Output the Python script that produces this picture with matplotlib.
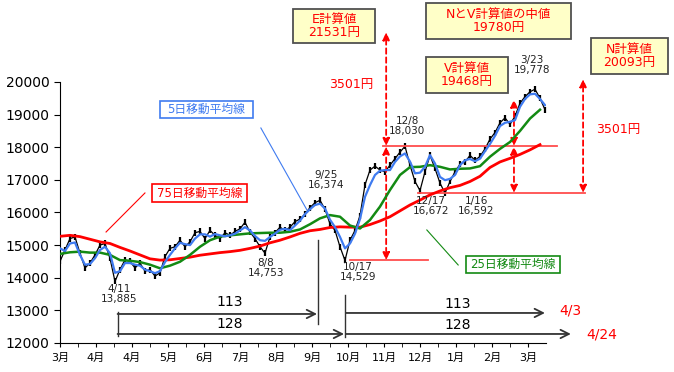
import numpy as np
import matplotlib.pyplot as plt
from matplotlib.patches import Rectangle

plt.rcParams['font.family'] = ['DejaVu Sans', 'Noto Sans CJK JP']

# x axis: one unit = one month label, samples every 5/36 (price, 5MA) and 10/36 (25MA, 75MA)
month_labels = ['3月', '4月', '4月', '5月', '6月', '7月', '8月', '9月',
                '10月', '11月', '12月', '1月', '2月', '3月']

close = [14500, 14850, 15200, 15250, 14750, 14300, 14450, 14700, 15000, 15050,
         14600, 13885, 14250, 14550, 14500, 14300, 14450, 14200, 14250, 14050,
         14150, 14650, 14900, 14950, 15150, 14950, 15100, 15380, 15420, 15200,
         15450, 15300, 15200, 15380, 15300, 15420, 15500, 15700, 15400, 15200,
         14950, 14753, 15250, 15380, 15550, 15450, 15550, 15720, 15800, 15950,
         16150, 16300, 16374, 16100, 15650, 15450, 14950, 14529, 15150, 15450,
         15900, 16850, 17300, 17420, 17300, 17250, 17450, 17650, 17850, 18030,
         17450, 16950, 16672, 17250, 17750, 17350, 16900, 16592, 16950, 17250,
         17480, 17550, 17750, 17600, 17720, 17950, 18250, 18450, 18750, 18900,
         18700, 18950, 19350, 19550, 19700, 19778, 19500, 19150]

ma5 = [14900, 14820, 15050, 15080, 14700, 14400, 14420, 14600, 14850, 14950,
       14750, 14150, 14200, 14450, 14450, 14400, 14370, 14250, 14200, 14140,
       14200, 14480, 14700, 14900, 15070, 15030, 15000, 15200, 15330, 15330,
       15260, 15340, 15300, 15270, 15300, 15350, 15450, 15550, 15450, 15280,
       15150, 15130, 15250, 15350, 15470, 15500, 15460, 15600, 15750, 15950,
       16100, 16230, 16270, 16120, 15780, 15550, 15250, 14900, 15050, 15350,
       15800, 16480, 16840, 17150, 17280, 17300, 17300, 17550, 17720, 17810,
       17560, 17200, 17220, 17400, 17760, 17500, 17090, 16990, 17030, 17150,
       17450, 17600, 17640, 17570, 17650, 17880, 18100, 18350, 18650, 18750,
       18780, 18830, 19240, 19480, 19620, 19640, 19480, 19290]

ma25 = [14730, 14780, 14800, 14770, 14770, 14700, 14540, 14520, 14480, 14400,
        14290, 14370, 14490, 14700, 14950, 15150, 15260, 15300, 15330, 15360,
        15370, 15380, 15380, 15410, 15480, 15640, 15820, 15920, 15870, 15600,
        15510, 15770, 16180, 16690, 17150, 17390, 17400, 17450, 17400, 17320,
        17340, 17350, 17420, 17710, 17950, 18160, 18500, 18880, 19150]

ma75 = [15270, 15300, 15260, 15180, 15100, 15050, 14930, 14820, 14700, 14580,
        14540, 14550, 14590, 14630, 14690, 14730, 14770, 14800, 14840, 14900,
        14970, 15070, 15150, 15250, 15360, 15440, 15480, 15540, 15560, 15550,
        15550, 15630, 15740, 15870, 16050, 16230, 16380, 16540, 16660, 16760,
        16830, 16950, 17110, 17380, 17550, 17660, 17780, 17920, 18080]

# key prices
low_1017 = 14529
high_128 = 18030
low_116 = 16592
range_e = 3501
calc_e = 21531
calc_v = 19468
calc_n = 20093
calc_nv = 19780

x_d = np.arange(len(close)) * 5 / 36
x_m = np.arange(len(ma25)) * 10 / 36

fig = plt.figure(figsize=(6.74, 3.72), dpi=100)
ax = fig.add_axes([0.089, 0.078, 0.7211, 0.7016])

ax.plot(x_d, close, color='black', lw=0.9, marker='|', ms=5, mew=1.6, zorder=2)
ax.plot(x_m, ma75, color='#ff0000', lw=2.0, zorder=3)
ax.plot(x_m, ma25, color='#138a13', lw=1.8, zorder=4)
ax.plot(x_d, ma5, color='#3f7bf0', lw=1.6, zorder=5)

ax.set_xlim(0, 13.5)
ax.set_ylim(12000, 20000)
ax.set_yticks(range(12000, 20001, 1000))
ax.set_xticks(range(len(month_labels)))
ax.set_xticklabels(month_labels, fontsize=8)
ax.set_xticks(np.arange(0.5, 13.5, 1), minor=True)
ax.tick_params(axis='y', labelsize=10, length=4, direction='out')
ax.tick_params(axis='x', which='both', length=3, direction='out', pad=4)
ax.spines['top'].set_visible(False)
ax.spines['right'].set_visible(False)

red = '#ff0000'
hl = '#ff4d4d'

# support / resistance lines
ax.plot([8.97, 13.81], [high_128, high_128], color=hl, lw=1.3, clip_on=False)
ax.plot([8.06, 10.22], [low_1017, low_1017], color=hl, lw=1.3, clip_on=False)
ax.plot([9.94, 14.58], [low_116, low_116], color=hl, lw=1.3, clip_on=False)


def dash_arrow(x, y0, y1):
    ax.annotate('', xy=(x, y1), xytext=(x, y0), annotation_clip=False,
                arrowprops=dict(arrowstyle='<|-|>,head_length=0.45,head_width=0.2',
                                color=red, lw=1.3, ls=(0, (3, 2)),
                                shrinkA=0, shrinkB=0))


dash_arrow(9.06, high_128, calc_e)
dash_arrow(9.06, high_128, low_1017)
dash_arrow(12.61, low_116, high_128)
dash_arrow(12.61, high_128, calc_v)
dash_arrow(14.53, low_116, calc_n)

ax.text(8.08, 19908, '%d円' % range_e, color=red, fontsize=9, ha='center', va='center')
ax.text(15.5, 18529, '%d円' % range_e, color=red, fontsize=9, ha='center', va='center')


def calc_box(x0, x1, y0, y1, s):
    ax.add_patch(Rectangle((x0, y0), x1 - x0, y1 - y0, facecolor='#ffffc8',
                           edgecolor='#505050', lw=1.3, clip_on=False, zorder=6))
    ax.text((x0 + x1) / 2, (y0 + y1) / 2, s, color=red, fontsize=9,
            ha='center', va='center', linespacing=1.0, zorder=7)


calc_box(6.47, 8.75, 21195, 22237, 'E計算値\n%d円' % calc_e)
calc_box(10.17, 14.19, 21318, 22421, 'NとV計算値の中値\n%d円' % calc_nv)
calc_box(10.17, 12.44, 19663, 20766, 'V計算値\n%d円' % calc_v)
calc_box(14.75, 16.89, 20245, 21349, 'N計算値\n%d円' % calc_n)


def ma_box(x0, x1, y0, y1, s, c, lead):
    ax.add_patch(Rectangle((x0, y0), x1 - x0, y1 - y0, facecolor='white',
                           edgecolor=c, lw=1.2, clip_on=False, zorder=6))
    ax.text((x0 + x1) / 2, (y0 + y1) / 2, s, color=c, fontsize=8.5,
            ha='center', va='center', zorder=7)
    ax.plot(lead[0], lead[1], color=c, lw=0.8, zorder=6, clip_on=False)


ma_box(2.78, 5.36, 18897, 19417, '5日移動平均線', '#3f7bf0',
       ([5.58, 6.86], [18590, 16077]))
ma_box(2.56, 5.19, 16322, 16874, '75日移動平均線', red,
       ([2.36, 1.28], [16598, 15402]))
ma_box(11.28, 13.89, 14146, 14667, '25日移動平均線', '#138a13',
       ([11.06, 10.19], [14391, 15464]))

# low / high labels
points = [(1.64, 13502, '4/11\n13,885'), (5.72, 14299, '8/8\n14,753'),
          (7.39, 16996, '9/25\n16,374'), (8.28, 14177, '10/17\n14,529'),
          (9.64, 18651, '12/8\n18,030'), (10.31, 16199, '12/17\n16,672'),
          (11.56, 16199, '1/16\n16,592'), (13.11, 20521, '3/23\n19,778')]
for px_, py_, s in points:
    ax.text(px_, py_, s, fontsize=7.5, ha='center', va='center', linespacing=1.0,
            color='#222222', zorder=8)

# day counts
gray = '#333333'
ax.plot([7.17, 7.17], [12583, 15157], color=gray, lw=1.0)
ax.plot([7.93, 7.93], [12184, 13472], color=gray, lw=1.0)
ax.plot([1.6, 1.6], [12215, 12951], color=gray, lw=1.0)


def count_arrow(x0, x1, y):
    ax.annotate('', xy=(x1, y), xytext=(x0, y), annotation_clip=False,
                arrowprops=dict(arrowstyle='->,head_length=0.6,head_width=0.3',
                                color=gray, lw=1.3, shrinkA=0, shrinkB=0))


count_arrow(1.6, 7.14, 12889)
count_arrow(1.6, 7.89, 12276)
count_arrow(7.94, 13.47, 12920)
count_arrow(7.94, 14.19, 12276)
ax.text(4.72, 13257, '113', fontsize=10, ha='center', va='center')
ax.text(4.72, 12583, '128', fontsize=10, ha='center', va='center')
ax.text(11.06, 13196, '113', fontsize=10, ha='center', va='center')
ax.text(11.06, 12552, '128', fontsize=10, ha='center', va='center')
ax.text(14.19, 12981, '4/3', fontsize=10, color=red, ha='center', va='center')
ax.text(15.06, 12245, '4/24', fontsize=10, color=red, ha='center', va='center')

fig.savefig('out.png', dpi=100)
